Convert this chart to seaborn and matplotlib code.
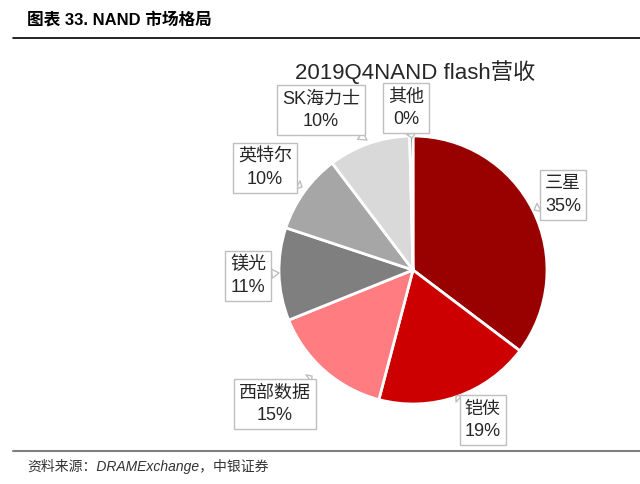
import numpy as np
import seaborn as sns
import matplotlib
matplotlib.use("Agg")
import matplotlib.pyplot as plt
from matplotlib.lines import Line2D

# data (share of 2019Q4 NAND flash revenue, %)
companies = ["三星", "铠侠", "西部数据", "镁光", "英特尔", "SK海力士", "其他"]
shares = [35.3, 18.8, 14.8, 11.2, 9.6, 9.9, 0.4]
share_labels = ["35%", "19%", "15%", "11%", "10%", "10%", "0%"]
colors = ["#990000", "#CC0000", "#FF7C80", "#7F7F7F", "#A6A6A6", "#D9D9D9", "#1F4E79"]

title = "2019Q4NAND flash营收"
header = "图表 33. NAND 市场格局"
source = "资料来源：DRAMExchange，中银证券"

sns.set_theme(style="white")
plt.rcParams["font.family"] = ["Liberation Sans", "Noto Sans CJK SC", "DejaVu Sans"]

W, H = 640, 484
fig = plt.figure(figsize=(W / 100, H / 100), dpi=100)
ax = fig.add_axes([0, 0, 1, 1])

# pie placed in pixel space
cx, cy, r = 413, H - 270, 134
ax.pie(shares, colors=sns.color_palette(colors), startangle=90, counterclock=False,
       center=(cx, cy), radius=r, frame=True,
       wedgeprops=dict(edgecolor="white", linewidth=2))
ax.set_xlim(0, W)
ax.set_ylim(0, H)
ax.set_aspect("equal")
ax.axis("off")

# callout boxes (centre of each box, pixel coords from top)
box_pos = [(563, 195), (483, 420), (275, 404), (248, 276), (265, 168), (321, 110), (406, 108)]
tips = [(534, 210), (456, 396), (312, 376), (279, 273), (302, 187), (367, 140), (412, 138)]

for name, lab, (bx, by), (tx, ty) in zip(companies, share_labels, box_pos, tips):
    ax.annotate(f"{name}\n{lab}", xy=(tx, H - ty), xytext=(bx, H - by),
                ha="center", va="center", fontsize=13, color="#262626",
                linespacing=1.4,
                bbox=dict(boxstyle="square,pad=0.3", fc="white", ec="#BFBFBF", lw=1),
                arrowprops=dict(arrowstyle="wedge,tail_width=0.5", fc="white",
                                ec="#BFBFBF", lw=1, shrinkA=0, shrinkB=0))

fig.text(415 / W, 1 - 72 / H, title, ha="center", va="center", fontsize=16, color="#262626")

fig.text(27 / W, 1 - 20 / H, header, ha="left", va="center", fontsize=12,
         fontweight="bold", color="black")
fig.add_artist(Line2D([13 / W, 1], [1 - 38 / H] * 2, color="black", lw=1.2))
fig.add_artist(Line2D([13 / W, 1], [1 - 451 / H] * 2, color="#808080", lw=1.5))
fig.text(27 / W, 1 - 466 / H, source, ha="left", va="center", fontsize=10,
         fontstyle="italic", color="#333333")

fig.savefig("out.png", dpi=100)
